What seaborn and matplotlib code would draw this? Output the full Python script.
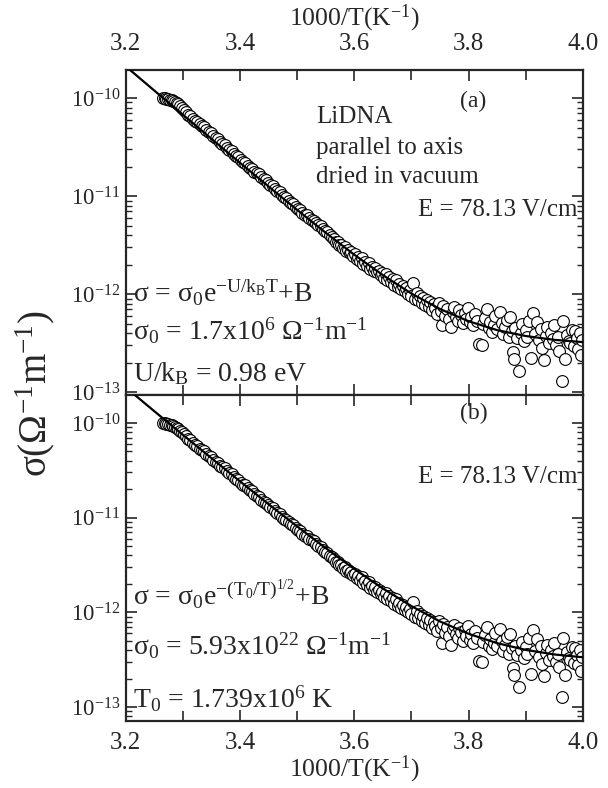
import numpy as np
import pandas as pd
import seaborn as sns
import matplotlib.pyplot as plt
from matplotlib.ticker import MultipleLocator, LogLocator, NullFormatter

# measured points: 1000/T and log10(sigma)
inv_temp = [
    3.265, 3.268, 3.271, 3.274, 3.277, 3.280, 3.283, 3.286, 3.289, 3.292,
    3.295, 3.298, 3.301, 3.305, 3.309, 3.313, 3.317, 3.321, 3.325, 3.329,
    3.333, 3.337, 3.341, 3.345, 3.349, 3.353, 3.357, 3.361, 3.365, 3.369,
    3.373, 3.377, 3.381, 3.385, 3.389, 3.393, 3.397, 3.401, 3.405, 3.409,
    3.413, 3.417, 3.421, 3.425, 3.429, 3.433, 3.437, 3.441, 3.445, 3.449,
    3.453, 3.457, 3.461, 3.465, 3.469, 3.473, 3.477, 3.481, 3.485, 3.489,
    3.493, 3.497, 3.501, 3.505, 3.509, 3.513, 3.517, 3.521, 3.525, 3.529,
    3.533, 3.537, 3.541, 3.545, 3.549, 3.553, 3.557, 3.561,
    3.565, 3.568, 3.571, 3.574, 3.577, 3.580, 3.583, 3.586, 3.589, 3.592,
    3.595, 3.598, 3.601, 3.604, 3.607, 3.610, 3.613, 3.616, 3.619, 3.622,
    3.625, 3.628, 3.631, 3.634, 3.637, 3.640, 3.643, 3.646, 3.649, 3.652,
    3.655, 3.658, 3.661, 3.664, 3.667, 3.670, 3.673, 3.676, 3.679, 3.682,
    3.685, 3.688, 3.691, 3.694, 3.697, 3.700, 3.703, 3.706, 3.709, 3.712,
    3.715, 3.718, 3.721, 3.724, 3.727, 3.730, 3.733, 3.736, 3.739, 3.742,
    3.745, 3.748, 3.751, 3.753, 3.756, 3.759, 3.762, 3.765, 3.769, 3.772,
    3.775, 3.778, 3.781, 3.784, 3.787, 3.790, 3.793, 3.796, 3.799, 3.802,
    3.805, 3.808, 3.811, 3.814, 3.819, 3.823, 3.826, 3.829, 3.832, 3.835,
    3.838, 3.841, 3.844, 3.847, 3.850, 3.855, 3.858, 3.861, 3.864, 3.867,
    3.870, 3.873, 3.876, 3.878, 3.879, 3.882, 3.885, 3.888, 3.891, 3.894,
    3.897, 3.900, 3.903, 3.906, 3.909, 3.913, 3.916, 3.920, 3.923, 3.926,
    3.928, 3.932, 3.935, 3.938, 3.941, 3.944, 3.947, 3.950, 3.953, 3.956,
    3.959, 3.963, 3.966, 3.969, 3.972, 3.975, 3.978, 3.981, 3.984, 3.986,
    3.989, 3.992, 3.995, 3.997, 3.999,
]
log_sigma = [
    -10.00, -10.00, -10.01, -10.01, -10.02, -10.02, -10.03, -10.04, -10.05, -10.06,
    -10.08, -10.10, -10.12, -10.14, -10.17, -10.18, -10.21, -10.23, -10.24, -10.27,
    -10.29, -10.30, -10.33, -10.35, -10.36, -10.39, -10.41, -10.42, -10.45, -10.47,
    -10.48, -10.51, -10.53, -10.54, -10.57, -10.59, -10.60, -10.63, -10.65, -10.66,
    -10.69, -10.71, -10.72, -10.75, -10.77, -10.78, -10.81, -10.83, -10.84, -10.87,
    -10.89, -10.90, -10.93, -10.95, -10.96, -10.99, -11.01, -11.02, -11.05, -11.07,
    -11.08, -11.11, -11.13, -11.14, -11.17, -11.19, -11.19, -11.22, -11.24, -11.25,
    -11.28, -11.30, -11.31, -11.34, -11.36, -11.37, -11.40, -11.42,
    -11.44, -11.47, -11.47, -11.50, -11.50, -11.53, -11.52, -11.56, -11.55, -11.58,
    -11.57, -11.61, -11.59, -11.64, -11.62, -11.66, -11.63, -11.69, -11.67, -11.71,
    -11.68, -11.74, -11.72, -11.76, -11.73, -11.78, -11.76, -11.81, -11.79, -11.84,
    -11.80, -11.86, -11.83, -11.88, -11.85, -11.91, -11.86, -11.93, -11.90, -11.95,
    -11.92, -11.97, -11.94, -12.00, -11.96, -12.02, -11.89, -12.05, -11.99, -12.06,
    -12.02, -12.09, -12.04, -12.11, -12.06, -12.13, -12.08, -12.16, -12.10, -12.14,
    -12.20, -12.09, -12.17, -12.32, -12.12, -12.22, -12.15, -12.25, -12.34, -12.18,
    -12.13, -12.23, -12.27, -12.16, -12.21, -12.30, -12.19, -12.25, -12.14, -12.29,
    -12.23, -12.32, -12.20, -12.27, -12.51, -12.52, -12.31, -12.24, -12.15, -12.35,
    -12.28, -12.39, -12.32, -12.22, -12.36, -12.18, -12.30, -12.41, -12.34, -12.26,
    -12.44, -12.23, -12.38, -12.59, -12.66, -12.35, -12.45, -12.79, -12.40, -12.31,
    -12.48, -12.37, -12.44, -12.27, -12.65, -12.19, -12.41, -12.28, -12.47, -12.36,
    -12.55, -12.67, -12.43, -12.34, -12.50, -12.40, -12.46, -12.32, -12.52, -12.44,
    -12.58, -12.89, -12.27, -12.66, -12.42, -12.48, -12.50, -12.37, -12.53, -12.38,
    -12.45, -12.56, -12.40, -12.62, -12.47,
]

# fitted curves, log10(sigma)
fit_x = [3.20, 3.25, 3.30, 3.35, 3.40, 3.45, 3.50, 3.55, 3.60, 3.65,
         3.70, 3.75, 3.80, 3.85, 3.90, 3.95, 4.00]
fit_arrhenius = [-9.678, -9.925, -10.171, -10.417, -10.662, -10.903, -11.142,
                 -11.375, -11.599, -11.807, -11.995, -12.153, -12.277,
                 -12.368, -12.428, -12.467, -12.490]
fit_vrh = [-9.625, -9.877, -10.126, -10.372, -10.617, -10.858, -11.093,
           -11.322, -11.542, -11.748, -11.934, -12.096, -12.226,
           -12.325, -12.396, -12.444, -12.474]

y_ticks = [1e-13, 1e-12, 1e-11, 1e-10]

df = pd.DataFrame({'x': inv_temp, 'sigma': 10 ** np.array(log_sigma)})
fit_a = pd.DataFrame({'x': fit_x, 'sigma': 10 ** np.array(fit_arrhenius)})
fit_b = pd.DataFrame({'x': fit_x, 'sigma': 10 ** np.array(fit_vrh)})

sns.set_style('ticks')
plt.rcParams['font.family'] = ['Liberation Serif', 'DejaVu Serif']
plt.rcParams['mathtext.fontset'] = 'custom'
plt.rcParams['mathtext.rm'] = 'Liberation Serif'
plt.rcParams['mathtext.it'] = 'Liberation Serif:italic'
plt.rcParams['mathtext.default'] = 'regular'
plt.rcParams['axes.linewidth'] = 1.6

fig = plt.figure(figsize=(6.08, 7.88), dpi=100)
ax1 = fig.add_axes([0.207, 0.4987, 0.7516, 0.4125])
ax2 = fig.add_axes([0.207, 0.085, 0.7516, 0.4137])

for ax, fit in ((ax1, fit_a), (ax2, fit_b)):
    sns.scatterplot(data=df, x='x', y='sigma', ax=ax, marker='o', s=72,
                    facecolor='white', edgecolor='black', linewidth=0.8, zorder=2)
    sns.lineplot(data=fit, x='x', y='sigma', ax=ax, color='black', linewidth=1.6, zorder=3)
    ax.set_yscale('log')
    ax.set_xlim(3.2, 4.0)
    ax.xaxis.set_major_locator(MultipleLocator(0.2))
    ax.xaxis.set_minor_locator(MultipleLocator(0.1))
    ax.set_yticks(y_ticks)
    ax.yaxis.set_minor_locator(LogLocator(base=10, subs=np.arange(2, 10)))
    ax.yaxis.set_minor_formatter(NullFormatter())
    ax.tick_params(which='both', direction='in', top=True, right=True)
    ax.tick_params(axis='x', labelsize=18)
    ax.tick_params(axis='y', labelsize=16.5)
    ax.tick_params(which='major', length=8, width=1.2)
    ax.tick_params(axis='x', which='minor', length=7, width=1.2)
    ax.tick_params(axis='y', which='minor', length=4.5, width=1.0)
    ax.tick_params(axis='y', which='major', pad=4)
    ax.set_ylabel('')
    ax.set_xlabel('')

ax1.set_ylim(10 ** -13.03, 10 ** -9.714)
ax2.set_ylim(10 ** -13.147, 10 ** -9.705)

ax1.tick_params(axis='x', which='both', labelbottom=False, labeltop=True, pad=11)
ax2.tick_params(axis='x', which='major', pad=8)
ax1.xaxis.set_label_position('top')
ax1.set_xlabel('1000/T(K$^{-1}$)', fontsize=18.5, labelpad=5)
ax2.set_xlabel('1000/T(K$^{-1}$)', fontsize=18.5, labelpad=0)
ax1.xaxis.set_major_formatter(plt.FormatStrFormatter('%.1f'))
ax2.xaxis.set_major_formatter(plt.FormatStrFormatter('%.1f'))

fig.text(0.058, 0.5, 'σ(Ω$^{-1}$m$^{-1}$)', rotation=90, fontsize=28,
         ha='center', va='center')

# panel (a) annotations
ax1.text(0.416, 0.855, 'LiDNA', transform=ax1.transAxes, fontsize=18, va='center')
ax1.text(0.761, 0.902, '(a)', transform=ax1.transAxes, fontsize=17, va='center', ha='center')
ax1.text(0.416, 0.760, 'parallel to axis', transform=ax1.transAxes, fontsize=18, va='center')
ax1.text(0.416, 0.671, 'dried in vacuum', transform=ax1.transAxes, fontsize=18, va='center')
ax1.text(0.989, 0.569, 'E = 78.13 V/cm', transform=ax1.transAxes, fontsize=18,
         va='center', ha='right')
ax1.text(0.015, 0.286, 'σ = σ$_0$e$^{-U/k_BT}$+B', transform=ax1.transAxes,
         fontsize=20, va='baseline')
ax1.text(0.015, 0.169, 'σ$_0$ = 1.7x10$^6$ Ω$^{-1}$m$^{-1}$', transform=ax1.transAxes,
         fontsize=20, va='baseline')
ax1.text(0.015, 0.043, 'U/k$_B$ = 0.98 eV', transform=ax1.transAxes,
         fontsize=20, va='baseline')

# panel (b) annotations
ax2.text(0.761, 0.942, '(b)', transform=ax2.transAxes, fontsize=17, va='center', ha='center')
ax2.text(0.989, 0.748, 'E = 78.13 V/cm', transform=ax2.transAxes, fontsize=18,
         va='center', ha='right')
ax2.text(0.015, 0.356, 'σ = σ$_0$e$^{-(T_0/T)^{1/2}}$+B', transform=ax2.transAxes,
         fontsize=20, va='baseline')
ax2.text(0.015, 0.202, 'σ$_0$ = 5.93x10$^{22}$ Ω$^{-1}$m$^{-1}$', transform=ax2.transAxes,
         fontsize=20, va='baseline')
ax2.text(0.015, 0.040, 'T$_0$ = 1.739x10$^6$ K', transform=ax2.transAxes,
         fontsize=20, va='baseline')

fig.savefig('out.png', dpi=100)
